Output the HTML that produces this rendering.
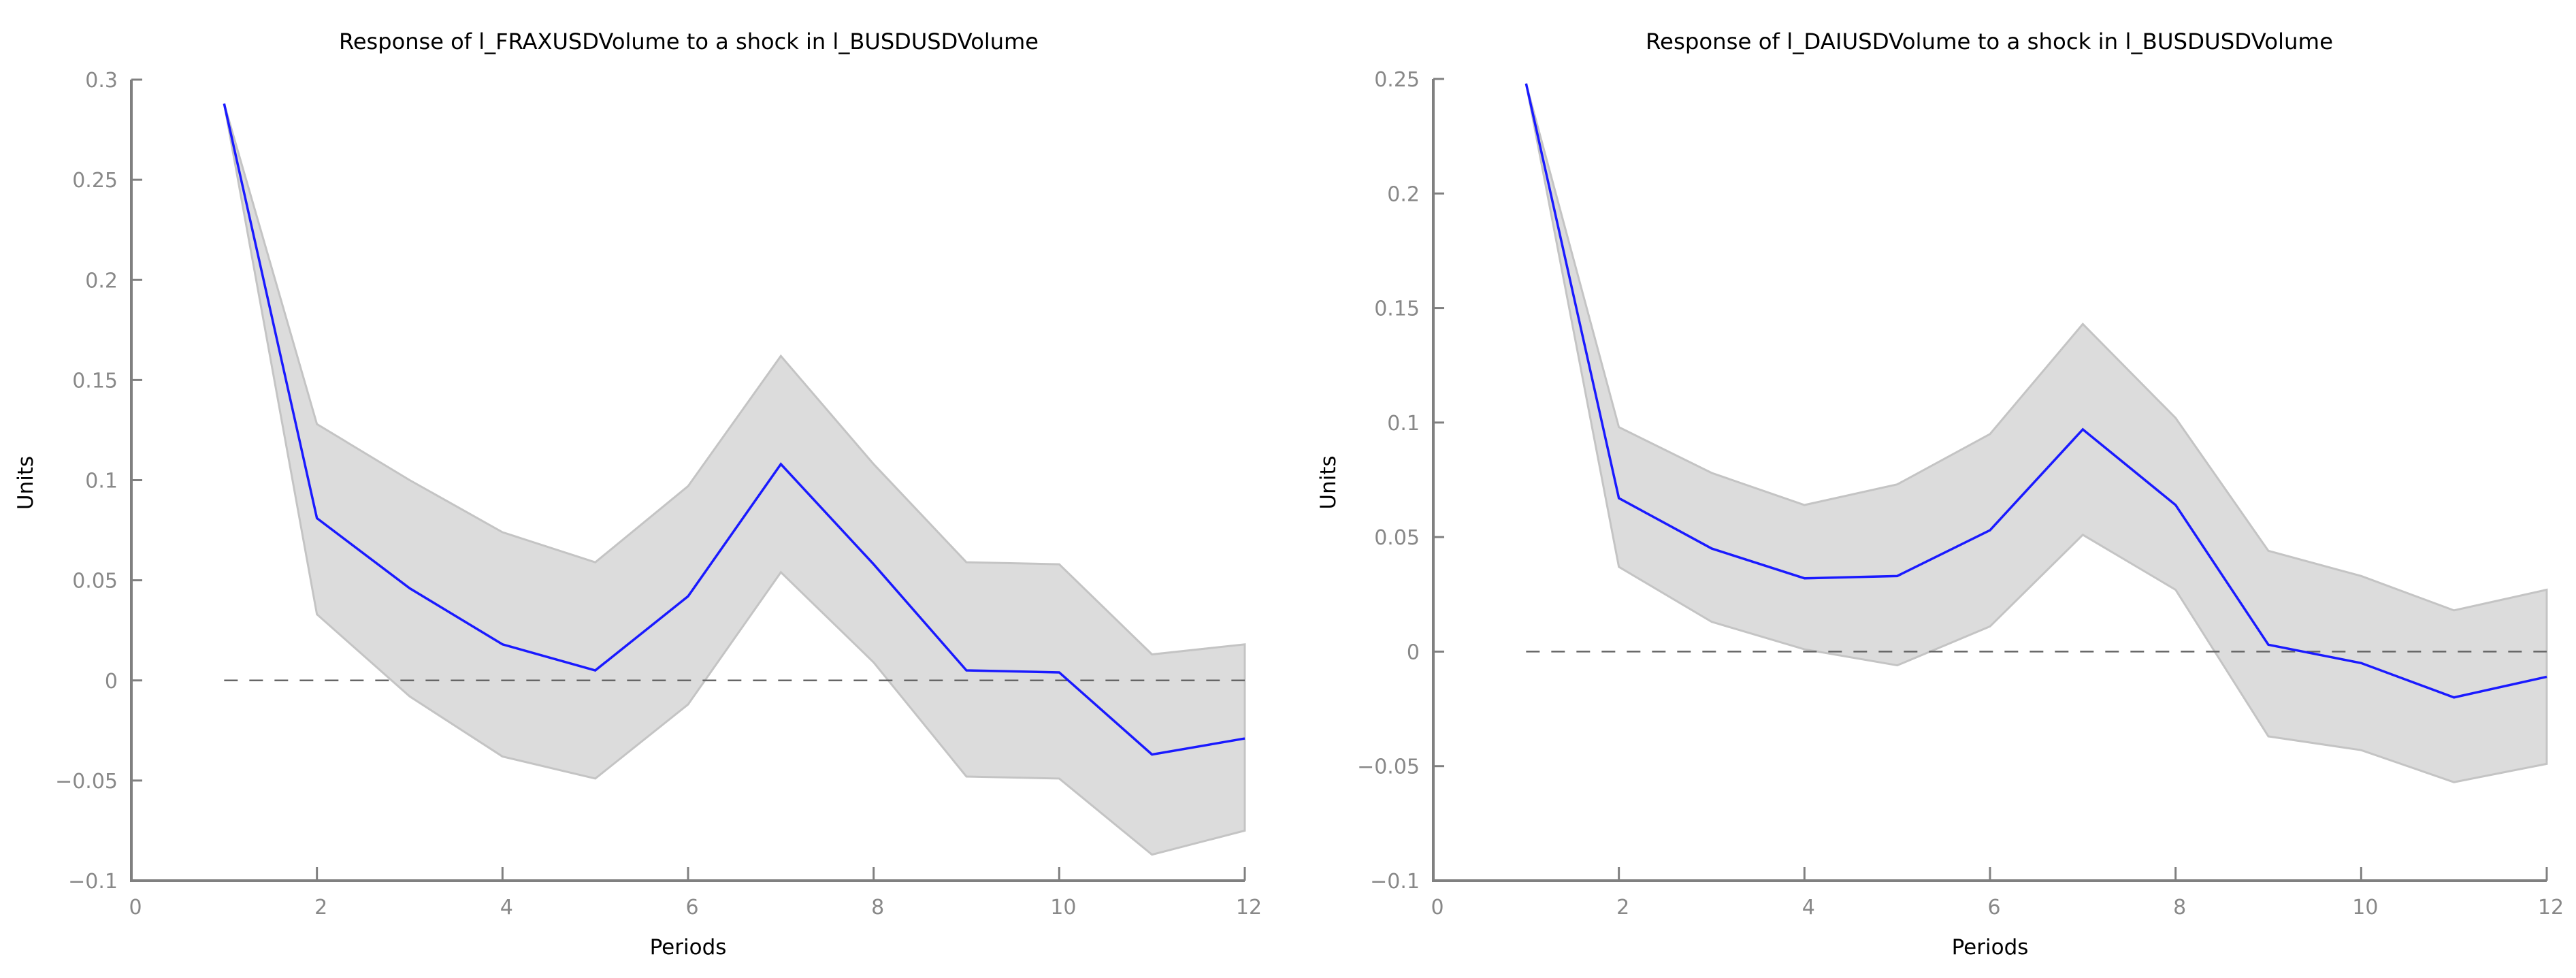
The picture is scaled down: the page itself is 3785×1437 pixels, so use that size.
<!DOCTYPE html>
<html><head><meta charset="utf-8"><style>
html,body{margin:0;padding:0;background:#fff;}
svg{display:block;font-family:"DejaVu Sans","Liberation Sans",sans-serif;}
</style></head><body>
<svg id="chart" width="3785" height="1437" viewBox="0 0 3785 1437" xmlns="http://www.w3.org/2000/svg"></svg>
<script>
const periods = [1,2,3,4,5,6,7,8,9,10,11,12];
const fraxLine  = [0.288,0.081,0.046,0.018,0.005,0.042,0.108,0.058,0.005,0.004,-0.037,-0.029];
const fraxUpper = [0.288,0.128,0.100,0.074,0.059,0.097,0.162,0.108,0.059,0.058,0.013,0.018];
const fraxLower = [0.288,0.033,-0.008,-0.038,-0.049,-0.012,0.054,0.009,-0.048,-0.049,-0.087,-0.075];
const daiLine  = [0.248,0.067,0.045,0.032,0.033,0.053,0.097,0.064,0.003,-0.005,-0.020,-0.011];
const daiUpper = [0.248,0.098,0.078,0.064,0.073,0.095,0.143,0.102,0.044,0.033,0.018,0.027];
const daiLower = [0.248,0.037,0.013,0.001,-0.006,0.011,0.051,0.027,-0.037,-0.043,-0.057,-0.049];
const xTicks = [0,2,4,6,8,10,12];
const fraxYTicks = [-0.1,-0.05,0,0.05,0.1,0.15,0.2,0.25,0.3];
const daiYTicks = [-0.1,-0.05,0,0.05,0.1,0.15,0.2,0.25];
const titles = ["Response of l_FRAXUSDVolume to a shock in l_BUSDUSDVolume","Response of l_DAIUSDVolume to a shock in l_BUSDUSDVolume"];

const NS="http://www.w3.org/2000/svg";
const svg=document.getElementById('chart');
function mk(tag,attrs,parent){const e=document.createElementNS(NS,tag);for(const k in attrs)e.setAttribute(k,attrs[k]);(parent||svg).appendChild(e);return e;}
function fmt(v){let s=String(Math.round(v*1000)/1000);return s.replace('-','\u2212');}

function panel(cfg){
  const g=mk('g',{});
  
  
  const X=v=>cfg.x0+(v-0)/(12-0)*(cfg.x1-cfg.x0);
  const Y=v=>cfg.yBot+(v-cfg.ymin)/(cfg.ymax-cfg.ymin)*(cfg.yTop-cfg.yBot);
  let pts=periods.map((p,i)=>X(p)+','+Y(cfg.upper[i]));
  for(let i=periods.length-1;i>=0;i--)pts.push(X(periods[i])+','+Y(cfg.lower[i]));
  const band=mk('polygon',{points:pts.join(' '),fill:'#dcdcdc',stroke:'#c4c4c4','stroke-width':3},g);
  
  
  const z=mk('line',{x1:X(1),x2:X(12),y1:Y(0),y2:Y(0),stroke:'#666','stroke-width':2.5,'stroke-dasharray':'20,17'},g);
  
  
  const l=mk('polyline',{points:periods.map((p,i)=>X(p)+','+Y(cfg.line[i])).join(' '),fill:'none',stroke:'#1a1aff','stroke-width':3.5},g);
  
  
  const ax=mk('polyline',{points:`${cfg.x0},${cfg.yTop} ${cfg.x0},${cfg.yBot} ${cfg.x1},${cfg.yBot}`,fill:'none',stroke:'#808080','stroke-width':4},g);
  
  
  xTicks.forEach(t=>{
    if(t>0){const tk=mk('line',{x1:X(t),x2:X(t),y1:cfg.yBot,y2:cfg.yBot-20,stroke:'#808080','stroke-width':3},g);
    
    }
    const tx=mk('text',{x:X(t)+6,y:cfg.yBot+49,'text-anchor':'middle','font-size':30,fill:'#888'},g);
    tx.textContent=fmt(t);
    
    
  });
  cfg.yticks.forEach(t=>{
    const tk=mk('line',{x1:cfg.x0,x2:cfg.x0+16,y1:Y(t),y2:Y(t),stroke:'#808080','stroke-width':3},g);
    
    
    const tx=mk('text',{x:cfg.x0-20,y:Y(t)+11,'text-anchor':'end','font-size':30,fill:'#888'},g);
    tx.textContent=fmt(t);
    
    
  });
  const ti=mk('text',{x:cfg.titleX,y:72,'text-anchor':'middle','font-size':32,fill:'#000',textLength:cfg.titleW,lengthAdjust:'spacingAndGlyphs'},g);
  ti.textContent=cfg.title;
  
  
  const xl=mk('text',{x:(cfg.x0+cfg.x1)/2,y:1402,'text-anchor':'middle','font-size':31,fill:'#000'},g);
  xl.textContent='Periods';
  
  
  const yl=mk('text',{x:0,y:0,'text-anchor':'middle','font-size':31,fill:'#000',transform:`translate(${cfg.unitsX},${(cfg.yTop+cfg.yBot)/2+4}) rotate(-90)`},g);
  yl.textContent='Units';
  
  
}
panel({name:'frax-panel',x0:193,x1:1829,yTop:117,yBot:1294,ymin:-0.1,ymax:0.3,line:fraxLine,upper:fraxUpper,lower:fraxLower,yticks:fraxYTicks,title:titles[0],titleX:1012,titleW:1028,unitsX:48});
panel({name:'dai-panel',x0:2106,x1:3742,yTop:116,yBot:1294,ymin:-0.1,ymax:0.25,line:daiLine,upper:daiUpper,lower:daiLower,yticks:daiYTicks,title:titles[1],titleX:2923,titleW:1010,unitsX:1962});
</script>
</body></html>
